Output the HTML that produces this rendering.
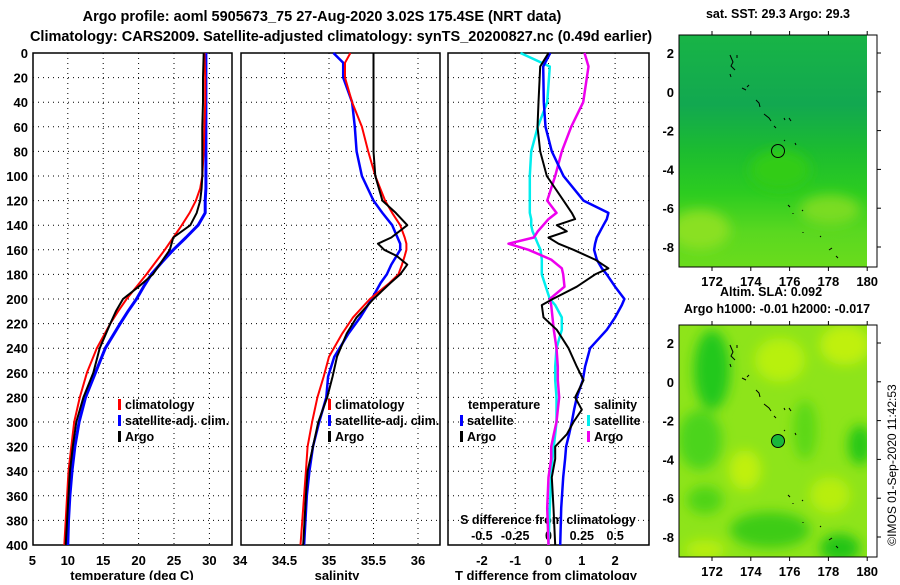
<!DOCTYPE html>
<html><head><meta charset="utf-8"><style>
body{margin:0;background:#fff}
svg text{font-family:"Liberation Sans",Arial,sans-serif;font-weight:bold;fill:#000}
</style></head><body>
<svg id="s" width="900" height="580" viewBox="0 0 900 580" xmlns="http://www.w3.org/2000/svg">
<defs>
<linearGradient id="g1" x1="0" y1="0" x2="0" y2="1">
<stop offset="0" stop-color="#18b446"/><stop offset="0.3" stop-color="#12a850"/><stop offset="0.5" stop-color="#1cbc30"/><stop offset="0.68" stop-color="#2ccc20"/><stop offset="0.85" stop-color="#5ad820"/><stop offset="1" stop-color="#6adc1c"/>
</linearGradient>
<filter id="bl"><feGaussianBlur stdDeviation="6"/></filter>
<clipPath id="c1"><rect x="679" y="35" width="188" height="232"/></clipPath>
<clipPath id="c2"><rect x="679" y="325" width="188" height="232"/></clipPath>
</defs>
<text x="322" y="21" font-size="14.5" text-anchor="middle">Argo profile: aoml 5905673_75 27-Aug-2020 3.02S 175.4SE (NRT data)</text>
<text x="341" y="41" font-size="14.5" text-anchor="middle">Climatology: CARS2009. Satellite-adjusted climatology: synTS_20200827.nc (0.49d earlier)</text>
<g id="p1"></g>
<g id="p2"></g>
<g id="p3"></g>
<g id="maps">
<g clip-path="url(#c1)">
<rect x="679" y="35" width="188" height="232" fill="url(#g1)"/>
<g filter="url(#bl)"><ellipse cx="700" cy="230" rx="30" ry="20" fill="#8ae020"/><ellipse cx="830" cy="210" rx="30" ry="15" fill="#7adc20"/><ellipse cx="780" cy="170" rx="30" ry="20" fill="#30cc18"/></g>
</g>
<rect x="867" y="35" width="10" height="232" fill="#fff"/>
<rect x="679" y="35" width="198" height="232" fill="none" stroke="#000"/>
<g clip-path="url(#c2)">
<rect x="679" y="325" width="188" height="232" fill="#8ee41a"/>
<g filter="url(#bl)">
<ellipse cx="712" cy="370" rx="18" ry="40" fill="#22c81c"/><ellipse cx="700" cy="440" rx="22" ry="30" fill="#4cd41a"/>
<ellipse cx="780" cy="360" rx="25" ry="22" fill="#b8f00e"/><ellipse cx="845" cy="345" rx="25" ry="20" fill="#c0f00c"/>
<ellipse cx="805" cy="430" rx="12" ry="30" fill="#5cd818"/><ellipse cx="860" cy="445" rx="12" ry="20" fill="#28c818"/>
<ellipse cx="745" cy="470" rx="16" ry="20" fill="#c0f00c"/><ellipse cx="830" cy="495" rx="20" ry="18" fill="#b8ee10"/>
<ellipse cx="770" cy="530" rx="40" ry="18" fill="#3ccc18"/><ellipse cx="840" cy="548" rx="20" ry="14" fill="#20c418"/>
<ellipse cx="705" cy="500" rx="18" ry="14" fill="#50d418"/><ellipse cx="705" cy="550" rx="20" ry="10" fill="#b8ee10"/>
</g>
</g>
<rect x="867" y="325" width="10" height="232" fill="#fff"/>
<rect x="679" y="325" width="198" height="232" fill="none" stroke="#000"/>
<g id="coast" fill="none" stroke="#000" stroke-width="1"></g>
<circle cx="778" cy="151" r="6.5" fill="none" stroke="#000"/>
<circle cx="778" cy="441" r="6.5" fill="#1ab83a" stroke="#000"/>
<text x="778" y="18" font-size="12.5" text-anchor="middle">sat. SST: 29.3 Argo: 29.3</text>
<text x="771" y="296" font-size="12.5" text-anchor="middle">Altim. SLA: 0.092</text>
<text x="777" y="313" font-size="12.5" text-anchor="middle">Argo h1000: -0.01 h2000: -0.017</text>
<text transform="translate(896,465) rotate(-90)" font-size="12" style="font-weight:normal" text-anchor="middle">©IMOS 01-Sep-2020 11:42:53</text>
</g>
</svg>
<script>
const depthTicks=[0,20,40,60,80,100,120,140,160,180,200,220,240,260,280,300,320,340,360,380,400];
const tempTicks=[5,10,15,20,25,30];
const salTicks=[34,34.5,35,35.5,36];
const tdTicks=[-2,-1,0,1,2];
const sdTicks=[-0.5,-0.25,0,0.25,0.5];
const sdTickLabels=["-0.5","-0.25","0","0.25","0.5"];
const tDepth=[0,20,40,60,80,100,110,120,130,140,150,160,170,180,190,200,210,220,240,260,280,300,320,340,360,380,400];
const tClim=[29.3,29.4,29.4,29.3,29.2,29.0,28.7,28.1,27.2,26.1,24.9,23.7,22.4,21.1,19.7,18.3,17.1,16.0,14.1,12.7,11.7,10.9,10.5,10.1,9.9,9.7,9.5];
const tSat=[29.5,29.5,29.5,29.5,29.5,29.5,29.5,29.4,29.4,28.4,26.7,24.9,23.3,21.8,20.7,19.7,18.5,17.4,15.3,13.9,12.5,11.6,11.0,10.6,10.3,10.1,10.0];
const tArgo=[29.2,29.1,29.1,29.0,29.0,29.0,28.9,28.7,28.2,27.3,24.9,24.4,23.2,22.0,20.0,17.8,16.8,16.0,14.5,13.6,12.2,11.2,10.7,10.3,10.1,9.9,9.7];
const sDepth=[0,8,20,40,60,80,100,120,130,140,150,155,160,165,172,180,187,200,215,228,247,263,280,300,320,340,360,400];
const sClim=[35.24,35.18,35.18,35.26,35.37,35.44,35.52,35.63,35.71,35.8,35.85,35.87,35.87,35.85,35.82,35.78,35.68,35.46,35.27,35.15,35.0,34.94,34.87,34.81,34.76,34.74,34.72,34.68];
const sSat=[35.05,35.16,35.16,35.26,35.29,35.31,35.37,35.5,35.6,35.71,35.77,35.8,35.8,35.76,35.7,35.65,35.58,35.48,35.35,35.22,35.06,34.99,34.97,34.89,34.82,34.78,34.75,34.72];
const sArgo=[35.5,35.5,35.5,35.5,35.5,35.5,35.52,35.6,35.75,35.88,35.7,35.55,35.62,35.76,35.88,35.8,35.69,35.5,35.31,35.2,35.09,35.04,34.98,34.88,34.82,34.76,34.74,34.71];
const dDepth=[0,11,40,60,80,100,120,130,135,140,145,150,155,160,168,175,180,190,200,205,215,225,240,255,266,280,290,300,310,320,330,345,370,400];
const dTSat=[0.05,-0.16,-0.14,-0.09,0.1,0.45,1.05,1.8,1.75,1.65,1.55,1.45,1.4,1.37,1.45,1.6,1.75,2.0,2.28,2.2,2.0,1.75,1.25,1.1,1.03,0.85,0.77,0.7,0.62,0.53,0.5,0.44,0.38,0.35];
const dTArgo=[0,-0.25,-0.3,-0.33,-0.25,-0.05,0.45,0.7,0.8,0.25,0.55,0.0,0.3,0.75,1.4,1.8,1.4,0.85,0.13,-0.2,-0.15,0.25,0.6,0.85,1.05,0.8,1.0,0.75,0.55,0.2,0.2,0.1,0.15,0.2];
const dSSat=[-0.21,0.01,-0.01,-0.08,-0.13,-0.14,-0.14,-0.14,-0.13,-0.13,-0.12,-0.1,-0.08,-0.06,-0.05,-0.05,-0.05,-0.02,0.01,0.05,0.1,0.1,0.06,0.05,0.05,0.06,0.06,0.06,0.05,0.04,0.03,0.02,0.01,0];
const dSArgo=[0.27,0.3,0.26,0.17,0.1,0.05,-0.01,0.06,0.0,-0.04,-0.08,-0.11,-0.3,-0.15,0.02,0.1,0.11,0.12,0.01,0.02,0.03,0.04,0.06,0.07,0.07,0.08,0.07,0.06,0.04,0.02,0.02,0.0,-0.01,0];
const NS='http://www.w3.org/2000/svg';
function mk(tag,attrs,parent){const e=document.createElementNS(NS,tag);for(const k in attrs)e.setAttribute(k,attrs[k]);parent.appendChild(e);return e;}
const Y0=53,YK=1.23;
function yD(d){return Y0+d*YK;}
function xT(t){return 32.4+(t-5)*7.08;}
function xS(s){return 240+(s-34)*89;}
function xDT(t){return 548.5+t*33.3;}
function xDS(s){return 548.5+s*133.3;}
function frame(g,x1,x2,grid){
  depthTicks.forEach((d,i)=>{if(i>0&&i<depthTicks.length-1){const l=mk('line',{x1:x1,x2:x2,y1:yD(d),y2:yD(d),stroke:'#000','stroke-dasharray':'1,4'},g);}});
  grid.forEach(x=>{const l=mk('line',{x1:x,x2:x,y1:Y0,y2:yD(400),stroke:'#000','stroke-dasharray':'1,4'},g);});
  const r=mk('rect',{x:x1,y:Y0,width:x2-x1,height:yD(400)-Y0,fill:'none',stroke:'#000','stroke-width':1.5},g);
  
}
function line(g,ds,vs,fx,col,w,name){
  const p=ds.map((d,i)=>fx(vs[i]).toFixed(1)+','+yD(d).toFixed(1)).join(' ');
  const e=mk('polyline',{points:p,fill:'none',stroke:col,'stroke-width':w,'stroke-linejoin':'round'},g);
  
  
}
function txt(g,x,y,s,anchor,size,name){const t=mk('text',{x:x,y:y,'text-anchor':anchor,'font-size':size},g);t.textContent=s;return t;}
function legend(g,x,y,col,label){const r=mk('rect',{x:x,y:y-10,width:3,height:11,fill:col},g);txt(g,x+7,y,label,'start',12.5,'legend-label');}
const p1=document.getElementById('p1');
frame(p1,33,232,[10,15,20,25,30].map(xT));
depthTicks.forEach(d=>txt(p1,28,yD(d)+5,String(d),'end',13,'y-tick-label'));
tempTicks.forEach(t=>txt(p1,xT(t),565,String(t),'middle',13,'x-tick-label'));
txt(p1,132,580,'temperature (deg C)','middle',13,'x-axis-title');
line(p1,tDepth,tSat,xT,'#0000ff',3,'satellite-adj-clim-line');
line(p1,tDepth,tClim,xT,'#ff0000',2,'climatology-line');
line(p1,tDepth,tArgo,xT,'#000',2,'argo-line');
legend(p1,118,409,'#ff0000','climatology');legend(p1,118,425,'#0000ff','satellite-adj. clim.');legend(p1,118,441,'#000','Argo');
const p2=document.getElementById('p2');
frame(p2,241,440,[34.5,35,35.5,36].map(xS));
salTicks.forEach(s=>txt(p2,xS(s),565,String(s),'middle',13,'x-tick-label'));
txt(p2,337,580,'salinity','middle',13,'x-axis-title');
line(p2,sDepth,sSat,xS,'#0000ff',2.5,'satellite-adj-clim-line');
line(p2,sDepth,sClim,xS,'#ff0000',2,'climatology-line');
line(p2,sDepth,sArgo,xS,'#000',2,'argo-line');
legend(p2,328,409,'#ff0000','climatology');legend(p2,328,425,'#0000ff','satellite-adj. clim.');legend(p2,328,441,'#000','Argo');
const p3=document.getElementById('p3');
frame(p3,448,649,tdTicks.map(xDT));
tdTicks.forEach(t=>txt(p3,xDT(t),565,String(t),'middle',13,'x-tick-label'));
txt(p3,546,580,'T difference from climatology','middle',13,'x-axis-title');
txt(p3,548,524,'S difference from climatology','middle',12.5,'s-axis-title');
sdTicks.forEach((s,i)=>txt(p3,xDS(s),540,sdTickLabels[i],'middle',12.5,'s-tick-label'));
line(p3,dDepth,dSSat,xDS,'#00eeee',2.5,'salinity-satellite-diff-line');
line(p3,dDepth,dSArgo,xDS,'#ee00ee',2.5,'salinity-argo-diff-line');
line(p3,dDepth,dTSat,xDT,'#0000ff',2.5,'temperature-satellite-diff-line');
line(p3,dDepth,dTArgo,xDT,'#000',2,'temperature-argo-diff-line');
txt(p3,468,409,'temperature','start',12.5,'legend-heading-temperature');
legend(p3,460,425,'#0000ff','satellite');legend(p3,460,441,'#000','Argo');
txt(p3,594,409,'salinity','start',12.5,'legend-heading-salinity');
legend(p3,587,425,'#00eeee','satellite');legend(p3,587,441,'#ee00ee','Argo');
const maps=document.getElementById('maps');
const lonTicks=[172,174,176,178,180];
const latTicks=[2,0,-2,-4,-6,-8];
function xLon(l){return 712+(l-172)*19.4;}
[[53,267,35],[343,557,325]].forEach(([y2,yb,yt])=>{
  lonTicks.forEach(l=>{mk('line',{x1:xLon(l),x2:xLon(l),y1:yt,y2:yt-4,stroke:'#000'},maps);mk('line',{x1:xLon(l),x2:xLon(l),y1:yb,y2:yb+4,stroke:'#000'},maps);txt(maps,xLon(l),yb+19,String(l),'middle',13,'lon-tick-label');});
  latTicks.forEach(la=>{const y=y2+(2-la)*19.4;mk('line',{x1:877,x2:881,y1:y,y2:y,stroke:'#000'},maps);txt(maps,674,y+5,String(la),'end',13,'lat-tick-label');});
});
const coast=document.getElementById('coast');
const isl=[[730,55,733,62,731,66,735,70],[737,55,737,58],[730,74,731,77],[742,88,746,90],[747,87,749,85],[756,100,759,103,760,107],[764,114,769,118,771,121],[774,126,776,128],[784,118,785,120],[789,118,791,121],[784,140,785,141],[795,143,796,145],[788,205,790,207],[793,213,793,214],[802,210,803,211],[803,232,803,233],[820,236,821,237],[829,250,832,248],[836,256,838,258]];
[0,290].forEach(off=>isl.forEach(p=>{const pts=[];for(let i=0;i<p.length;i+=2)pts.push(p[i]+','+(p[i+1]+off));mk('polyline',{points:pts.join(' ')},coast);}));
</script>
</body></html>
